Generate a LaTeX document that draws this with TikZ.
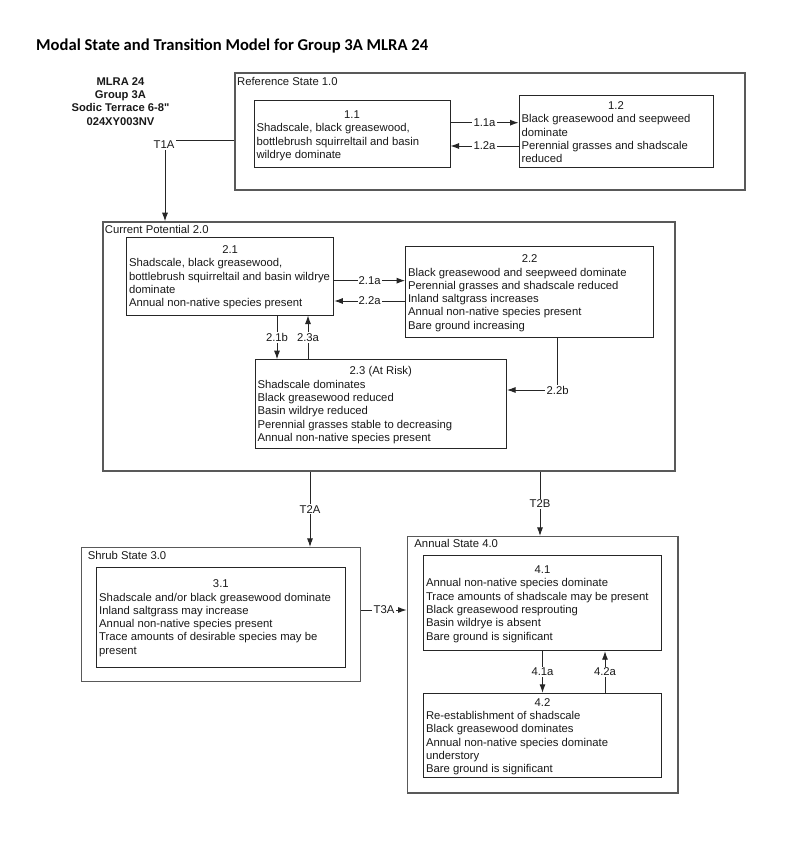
\documentclass[tikz,border=0pt]{standalone}
\usepackage{fontspec}
\setmainfont{Liberation Sans}
\newfontfamily\plainsans[Ligatures=TeXOff]{Liberation Sans}
\newfontfamily\titlefont{Carlito}
\usetikzlibrary{arrows.meta}
\newcommand\sttext[3]{\parbox{#1pt}{\centering\rule{0pt}{12pt}#2\par\raggedright\begin{tabular}[t]{@{}l@{}}#3\end{tabular}\par}}
\begin{document}
\begin{tikzpicture}[x=1pt,y=-1pt,
  inner/.style={draw=black!85, line width=1pt, inner sep=0pt, text=black!90, font=\fontsize{11.3}{13.3}\selectfont},
  outer/.style={draw=black!65, line width=1.5pt, inner sep=0pt},
  slbl/.style={anchor=base west, inner sep=0pt, text=black!90, font=\fontsize{11.3}{13.3}\selectfont},
  conn/.style={draw=black!85, line width=0.9pt, -{Latex[length=8.5pt,width=6pt]}},
  tl/.style={fill=white, inner sep=1.2pt, text=black!90, font=\fontsize{11.3}{13.3}\selectfont}]
\useasboundingbox (0,0) rectangle (800,866);
\fill[white] (0,0) rectangle (800,866);

\node[anchor=base west, inner sep=0pt, font=\titlefont\bfseries\fontsize{16.6}{20}\selectfont] (title) at (36,50.5) {Modal State and Transition Model for Group 3A MLRA 24};
\node[align=center, inner sep=0pt, text=black!90, font=\plainsans\bfseries\fontsize{11.2}{13.3}\selectfont] (mlra) at (120.5,101.5) {MLRA 24\\Group 3A\\Sodic Terrace 6-8"\\024XY003NV};

% outer state boxes
\node[outer, minimum width=510pt, minimum height=117pt] (ref) at (490,131.5) {};
\node[slbl] (reflbl) at ([xshift=2.7pt,yshift=-13.2pt]ref.north west) {Reference State 1.0};
\node[outer, minimum width=572pt, minimum height=249pt] (cur) at (389,346.5) {};
\node[slbl] (curlbl) at ([xshift=2.5pt,yshift=-12.5pt]cur.north west) {Current Potential 2.0};
\node[outer, minimum width=279pt, minimum height=134pt] (shrub) at (221.2,614.7) {};
\node[slbl] (shrublbl) at ([xshift=6.6pt,yshift=-13pt]shrub.north west) {Shrub State 3.0};
\node[outer, minimum width=270.7pt, minimum height=256.3pt] (annual) at (542.65,664.85) {};
\node[slbl] (annuallbl) at ([xshift=7.7pt,yshift=-12pt]annual.north west) {Annual State 4.0};

% community phases
\node[inner, minimum width=196pt, minimum height=67pt] (n11) at (352,134.5)
  {\sttext{191}{1.1}{Shadscale, black greasewood,\\bottlebrush squirreltail and basin\\wildrye dominate}};
\node[inner, minimum width=194pt, minimum height=72pt] (n12) at (616,132)
  {\sttext{189}{1.2}{Black greasewood and seepweed\\dominate\\Perennial grasses and shadscale\\reduced}};
\node[inner, minimum width=207.3pt, minimum height=77.5pt] (n21) at (230.15,276.25)
  {\sttext{202.3}{2.1}{Shadscale, black greasewood,\\bottlebrush squirreltail and basin wildrye\\dominate\\Annual non-native species present}};
\node[inner, minimum width=248pt, minimum height=91pt] (n22) at (529.6,292)
  {\sttext{243}{2.2}{Black greasewood and seepweed dominate\\Perennial grasses and shadscale reduced\\Inland saltgrass increases\\Annual non-native species present\\Bare ground increasing}};
\node[inner, minimum width=251.5pt, minimum height=88.8pt] (n23) at (380.75,404.1)
  {\sttext{246.5}{2.3 (At Risk)}{Shadscale dominates\\Black greasewood reduced\\Basin wildrye reduced\\Perennial grasses stable to decreasing\\Annual non-native species present}};
\node[inner, minimum width=248.3pt, minimum height=100pt] (n31) at (220.85,617)
  {\sttext{243.3}{3.1}{Shadscale and/or black greasewood dominate\\Inland saltgrass may increase\\Annual non-native species present\\Trace amounts of desirable species may be\\present}};
\node[inner, minimum width=238pt, minimum height=95.7pt] (n41) at (542.5,602.85)
  {\sttext{233}{4.1}{Annual non-native species dominate\\Trace amounts of shadscale may be present\\Black greasewood resprouting\\Basin wildrye is absent\\Bare ground is significant}};
\node[inner, minimum width=238pt, minimum height=84.4pt] (n42) at (542.5,735.5)
  {\sttext{233}{4.2}{Re-establishment of shadscale\\Black greasewood dominates\\Annual non-native species dominate\\understory\\Bare ground is significant}};

% transitions between states
\draw[conn] ([yshift=-8.5pt]ref.west) -| node[tl, xshift=-1pt, yshift=-5pt] (t1a) {T1A} ([xshift=-224pt]cur.north);
\draw[conn] ([xshift=-79pt]cur.south) -- node[tl] (t2a) {T2A} ([xshift=-79pt]cur.south |- shrub.north);
\draw[conn] ([xshift=151pt]cur.south) -- node[tl] (t2b) {T2B} ([xshift=151pt]cur.south |- annual.north);
\draw[conn] ([yshift=4.7pt]shrub.east) -- node[tl] (t3a) {T3A} ([yshift=4.7pt]shrub.east -| annual.west);

% community pathways
\draw[conn] ([yshift=11.8pt]n11.east) -- node[tl] (p11a) {1.1a} ([yshift=11.8pt]n11.east -| n12.west);
\draw[conn] ([yshift=-11.5pt]n11.east -| n12.west) -- node[tl] (p12a) {1.2a} ([yshift=-11.5pt]n11.east);
\draw[conn] ([yshift=-4.4pt]n21.east) -- node[tl] (p21a) {2.1a} ([yshift=-4.4pt]n21.east -| n22.west);
\draw[conn] ([yshift=-24.75pt]n21.east -| n22.west) -- node[tl] (p22a) {2.2a} ([yshift=-24.75pt]n21.east);
\draw[conn] ([xshift=46.85pt]n21.south) -- node[tl] (p21b) {2.1b} ([xshift=46.85pt]n21.south |- n23.north);
\draw[conn] ([xshift=77.85pt]n21.south |- n23.north) -- node[tl] (p23a) {2.3a} ([xshift=77.85pt]n21.south);
\draw[conn] ([xshift=28pt]n22.south) |- node[tl] (p22b) {2.2b} ([yshift=14.1pt]n23.east);
\draw[conn] (n41.south) -- node[tl] (p41a) {4.1a} (n41.south |- n42.north);
\draw[conn] ([xshift=62.5pt]n41.south |- n42.north) -- node[tl] (p42a) {4.2a} ([xshift=62.5pt]n41.south);
\end{tikzpicture}
\end{document}
